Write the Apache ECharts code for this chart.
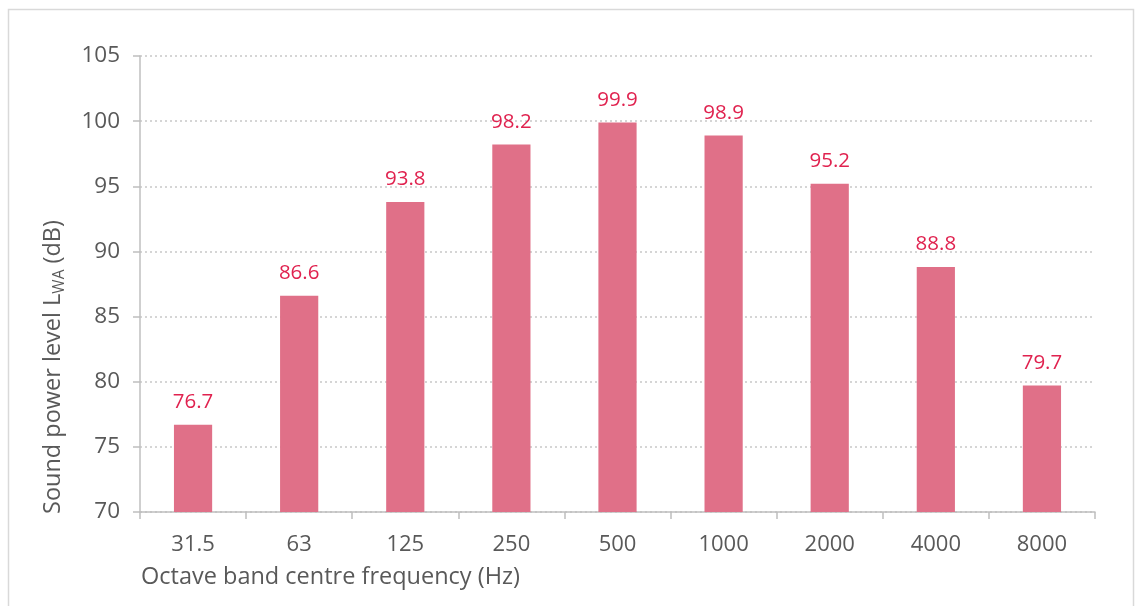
<!DOCTYPE html>
<html>
<head>
<meta charset="utf-8">
<script src="https://cdn.jsdelivr.net/npm/echarts@6/dist/echarts.min.js"></script>
<style>html,body{margin:0;padding:0;background:#fff}#c{width:1141px;height:606px}</style>
</head>
<body>
<div id="c"></div>
<script>
const categories = ['31.5','63','125','250','500','1000','2000','4000','8000'];
const values = [76.7, 86.6, 93.8, 98.2, 99.9, 98.9, 95.2, 88.8, 79.7];
const yTicks = [70, 75, 80, 85, 90, 95, 100, 105];

const FONT = '"Open Sans", sans-serif';
const chart = echarts.init(document.getElementById('c'));
chart.setOption({
  animation: false,
  grid: {left: 140, right: 46, top: 56, bottom: 94, containLabel: false},
  graphic: [
    {type: 'rect', shape: {x: 8.5, y: 9.5, width: 1125, height: 620}, style: {fill: 'none', stroke: '#d9d9d9', lineWidth: 1.5}, silent: true},
    {type: 'text', left: 141, top: 565, style: {text: 'Octave band centre frequency (Hz)', fill: '#595959', font: '23.5px ' + FONT}},
    {type: 'text', x: 53, y: 514, rotation: Math.PI / 2,
      style: {
        text: '{a|Sound power level L}{b|WA}{a| (dB)}',
        align: 'left', verticalAlign: 'middle',
        rich: {
          a: {fontSize: 23.5, lineHeight: 30, fill: '#595959', fontFamily: FONT},
          b: {fontSize: 15.5, lineHeight: 16, fill: '#595959', fontFamily: FONT, verticalAlign: 'bottom'}
        }
      }, silent: true}
  ],
  xAxis: {
    type: 'category',
    data: categories,
    axisLine: {lineStyle: {color: '#bfbfbf', width: 1.5}},
    axisTick: {show: true, length: 7, lineStyle: {color: '#bfbfbf', width: 1.5}},
    axisLabel: {color: '#595959', fontSize: 22, fontFamily: FONT, margin: 22}
  },
  yAxis: {
    type: 'value',
    min: 70, max: 105, interval: 5,
    axisLine: {show: true, lineStyle: {color: '#bfbfbf', width: 1.5}},
    axisTick: {show: true, length: 7, lineStyle: {color: '#bfbfbf', width: 1.5}},
    axisLabel: {color: '#595959', fontSize: 22.5, fontFamily: FONT, margin: 20,
      formatter: v => yTicks.includes(v) ? String(v) : ''},
    splitLine: {show: true, lineStyle: {color: '#c8c8c8', type: [2, 3], width: 1.5}}
  },
  series: [{
    type: 'bar',
    data: values,
    barWidth: '36%',
    itemStyle: {color: '#e07088'},
    label: {show: true, position: 'top', distance: 12, color: '#e0224f', fontSize: 20.5, fontFamily: FONT,
      formatter: p => p.value.toFixed(1)}
  }]
});
</script>
</body>
</html>
